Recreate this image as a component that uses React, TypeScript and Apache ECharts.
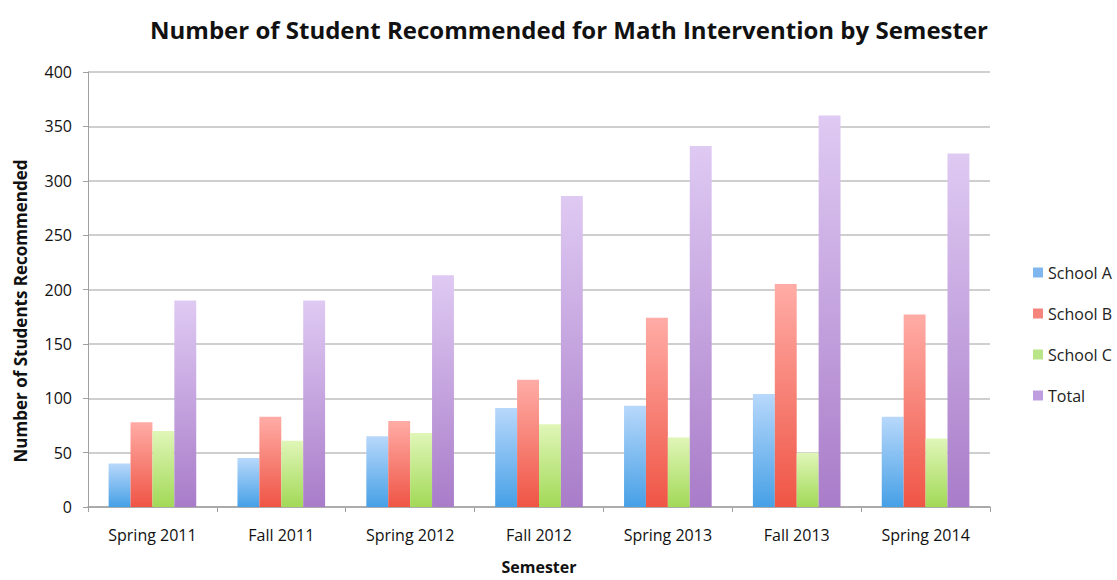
import React, { useEffect, useRef } from "react";
import * as echarts from "echarts";

const categories = ["Spring 2011", "Fall 2011", "Spring 2012", "Fall 2012", "Spring 2013", "Fall 2013", "Spring 2014"];
const schoolA = [40, 45, 65, 91, 93, 104, 83];
const schoolB = [78, 83, 79, 117, 174, 205, 177];
const schoolC = [70, 61, 68, 76, 64, 50, 63];
const total = [190, 190, 213, 286, 332, 360, 325];
const yTicks = { min: 0, max: 400, interval: 50 };

const grad = (top: string, bottom: string) =>
  new echarts.graphic.LinearGradient(0, 0, 0, 1, [
    { offset: 0, color: top },
    { offset: 1, color: bottom },
  ]);

const FONT = "'Open Sans', 'Noto Sans', sans-serif";

export default function App() {
  const ref = useRef<HTMLDivElement>(null);
  useEffect(() => {
    const chart = echarts.init(ref.current!, null, { renderer: "svg" });
    const mk = (name: string, data: number[], top: string, bottom: string, legendColor: string) => ({
      name,
      type: "bar",
      data,
      barGap: "0%",
      barCategoryGap: "32%",
      itemStyle: { color: grad(top, bottom) },
      color: legendColor,
    });
    chart.setOption({
      animation: false,
      backgroundColor: "#ffffff",
      textStyle: { fontFamily: FONT },
      title: {
        text: "Number of Student Recommended for Math Intervention by Semester",
        left: 564,
        textAlign: "center",
        top: 12,
        textStyle: { fontFamily: FONT, fontSize: 24, fontWeight: "bold", color: "#111" },
      },
      legend: {
        orient: "vertical",
        left: 1028,
        top: 258,
        itemWidth: 10,
        itemHeight: 10,
        itemGap: 22,
        icon: "rect",
        textStyle: { fontFamily: FONT, fontSize: 16, color: "#222", lineHeight: 19 },
        data: [
          { name: "School A", itemStyle: { color: "#7fb6ee" } },
          { name: "School B", itemStyle: { color: "#f5847c" } },
          { name: "School C", itemStyle: { color: "#b9e589" } },
          { name: "Total", itemStyle: { color: "#bf9ee0" } },
        ],
      },
      graphic: [
        {
          type: "text",
          x: 20,
          y: 311,
          rotation: Math.PI / 2,
          style: {
            text: "Number of Students Recommended",
            fontFamily: FONT,
            fontSize: 17,
            fontWeight: "bold",
            fill: "#111",
            textAlign: "center",
            textVerticalAlign: "middle",
          },
        },
      ],
      grid: { left: 88, right: 127, top: 72, bottom: 69, containLabel: false },
      xAxis: {
        type: "category",
        data: categories,
        name: "Semester",
        nameLocation: "middle",
        nameGap: 52,
        nameTextStyle: { fontFamily: FONT, fontSize: 16, fontWeight: "bold", color: "#111" },
        axisLine: { lineStyle: { color: "#a0a0a0", width: 1.5 } },
        axisTick: { show: true, length: 5, lineStyle: { color: "#a0a0a0" } },
        axisLabel: { fontFamily: FONT, fontSize: 16, color: "#111", margin: 20 },
      },
      yAxis: {
        type: "value",
        min: yTicks.min,
        max: yTicks.max,
        interval: yTicks.interval,
        axisLine: { show: true, lineStyle: { color: "#a0a0a0", width: 1 } },
        axisTick: { show: true, length: 5, lineStyle: { color: "#a0a0a0" } },
        axisLabel: { fontFamily: FONT, fontSize: 16, color: "#111", margin: 16 },
        splitLine: { lineStyle: { color: "#cfcfcf", width: 2 } },
      },
      series: [
        mk("School A", schoolA, "#b8d8fb", "#46a0e6", "#7fb6ee"),
        mk("School B", schoolB, "#ffaca6", "#ef5545", "#f5847c"),
        mk("School C", schoolC, "#e0f6b8", "#a2d957", "#b9e589"),
        mk("Total", total, "#dfcaf3", "#a97cc9", "#bf9ee0"),
      ],
    });
    return () => chart.dispose();
  }, []);
  return <div ref={ref} style={{ width: 1117, height: 580, position: "absolute", left: 0, top: 0 }} />;
}
